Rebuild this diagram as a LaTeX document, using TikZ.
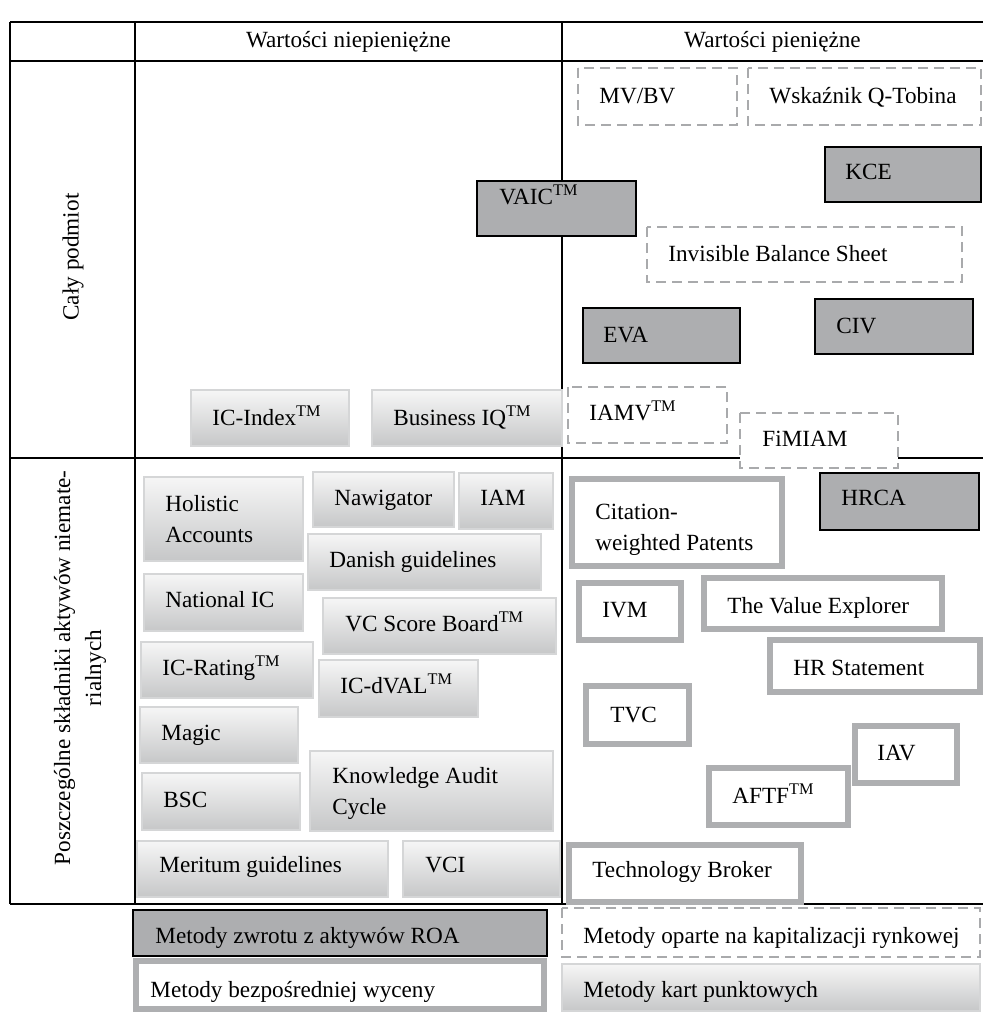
\documentclass[tikz,border=0pt]{standalone}
\usepackage{fontspec}
\setmainfont{Liberation Serif}
\usepackage{tikz}
\usepackage{xcolor}

\definecolor{roagray}{HTML}{ADAEB0}
\definecolor{dashgray}{HTML}{A9AAAC}
\definecolor{framegray}{HTML}{AEAFB1}
\definecolor{cardedge}{HTML}{D5D6D7}
\definecolor{cardtop}{HTML}{F6F6F6}
\definecolor{cardbot}{HTML}{C6C7C8}

\begin{document}
\begin{tikzpicture}[x=0.5pt,y=-0.5pt,
  siatka/.style={line width=1pt},
  roa/.style={fill=roagray,draw=black,line width=1pt},
  rynek/.style={fill=white,draw=dashgray,line width=1pt,dash pattern=on 5pt off 3pt},
  wycena/.style={fill=white,draw=framegray,line width=3.25pt},
  karta/.style={draw=cardedge,line width=1pt,top color=cardtop,bottom color=cardbot},
  tekst/.style={inner sep=0pt,font=\fontsize{11.6}{15.5}\selectfont},
  lbl/.style={tekst,anchor=base west},
  lbl2/.style={tekst,anchor=north west,align=left}]
\useasboundingbox (0,0) rectangle (983,1013);
% siatka tabeli
\draw[siatka] (10,22) -- (983,22);
\draw[siatka] (10,61) -- (983,61);
\draw[siatka] (10,458) -- (983,458);
\draw[siatka] (10,904) -- (983,904);
\draw[siatka] (10,22) -- (10,904);
\draw[siatka] (135,22) -- (135,904);
\draw[siatka] (562,22) -- (562,904);
\node[tekst] (niepien) at (348.5,41.5) {Wartości niepieniężne};
\node[tekst] (pien) at (772.5,41.5) {Wartości pieniężne};
\node[tekst,rotate=90] (caly) at (73,257) {Cały podmiot};
\node[tekst,rotate=90,align=center] (skladniki) at (80,668) {Poszczególne składniki aktywów niemate-\\rialnych};
% caly podmiot
\draw[rynek] (578,68) rectangle (737,125);
\node[lbl] (mvbv) at (599,103) {MV/BV};
\draw[rynek] (748,68) rectangle (981,125);
\node[lbl] (tobin) at (769,103) {Wskaźnik Q-Tobina};
\draw[roa] (825,147) rectangle (981,202);
\node[lbl] (kce) at (845,179) {KCE};
\draw[roa] (477,181) rectangle (636,236);
\node[lbl] (vaic) at (499,204) {VAIC\textsuperscript{TM}};
\draw[rynek] (647,227) rectangle (962,282);
\node[lbl] (ibs) at (668,261) {Invisible Balance Sheet};
\draw[roa] (583,308) rectangle (740,363);
\node[lbl] (eva) at (603,342) {EVA};
\draw[roa] (815,299) rectangle (973,354);
\node[lbl] (civ) at (836,333) {CIV};
\draw[rynek] (568,387) rectangle (727,443);
\node[lbl] (iamv) at (589,420) {IAMV\textsuperscript{TM}};
\draw[rynek] (740,413) rectangle (898,468);
\node[lbl] (fimiam) at (762,446) {FiMIAM};
\draw[karta] (372,390) rectangle (562,446);
\node[lbl] (busiq) at (393,425) {Business IQ\textsuperscript{TM}};
\draw[karta] (191,390) rectangle (349,446);
\node[lbl] (icindex) at (212,425) {IC-Index\textsuperscript{TM}};
% wartosci niepieniezne, skladniki
\draw[karta] (144,477) rectangle (303,561);
\node[lbl2] (holistic) at (165,495) {Holistic\\Accounts};
\draw[karta] (313,472) rectangle (454,527);
\node[lbl] (nawigator) at (334,505) {Nawigator};
\draw[karta] (459,473) rectangle (553,529);
\node[lbl] (iam) at (480,505) {IAM};
\draw[karta] (308,534) rectangle (541,590);
\node[lbl] (danish) at (329,567) {Danish guidelines};
\draw[karta] (144,574) rectangle (303,631);
\node[lbl] (national) at (165,607) {National IC};
\draw[karta] (323,598) rectangle (556,654);
\node[lbl] (vcscore) at (345,631) {VC Score Board\textsuperscript{TM}};
\draw[karta] (141,642) rectangle (313,698);
\node[lbl] (icrating) at (162,675) {IC-Rating\textsuperscript{TM}};
\draw[karta] (319,660) rectangle (478,717);
\node[lbl] (icdval) at (340,693) {IC-dVAL\textsuperscript{TM}};
\draw[karta] (140,707) rectangle (298,763);
\node[lbl] (magic) at (161,740) {Magic};
\draw[karta] (142,773) rectangle (300,830);
\node[lbl] (bsc) at (163,807) {BSC};
\draw[karta] (310,751) rectangle (553,831);
\node[lbl2] (kac) at (332,767) {Knowledge Audit\\Cycle};
\draw[karta] (137,841) rectangle (388,897);
\node[lbl] (meritum) at (159,872) {Meritum guidelines};
\draw[karta] (403,841) rectangle (560,897);
\node[lbl] (vci) at (425,872) {VCI};
% wartosci pieniezne, skladniki
\draw[wycena] (572,479) rectangle (782,566);
\node[lbl2] (citation) at (595,504) {Citation-\\weighted Patents};
\draw[roa] (820,473) rectangle (979,530);
\node[lbl] (hrca) at (841,505) {HRCA};
\draw[wycena] (579,583) rectangle (681,640);
\node[lbl] (ivm) at (602,617) {IVM};
\draw[wycena] (704,578) rectangle (942,629);
\node[lbl] (explorer) at (727,613) {The Value Explorer};
\draw[wycena] (770,640) rectangle (980,692);
\node[lbl] (hrstat) at (793,675) {HR Statement};
\draw[wycena] (586,686) rectangle (689,744);
\node[lbl] (tvc) at (610,722) {TVC};
\draw[wycena] (855,726) rectangle (957,783);
\node[lbl] (iav) at (877,760) {IAV};
\draw[wycena] (709,768) rectangle (848,825);
\node[lbl] (aftf) at (732,803) {AFTF\textsuperscript{TM}};
\draw[wycena] (569,845) rectangle (801,902);
\node[lbl] (broker) at (592,877) {Technology Broker};
% legenda
\draw[roa] (133,910) rectangle (547,956);
\node[lbl] (legroa) at (155,943) {Metody zwrotu z aktywów ROA};
\draw[rynek] (562,908) rectangle (980,957);
\node[lbl] (legrynek) at (583,943) {Metody oparte na kapitalizacji rynkowej};
\draw[wycena] (136,961) rectangle (544,1009);
\node[lbl] (legwycena) at (150,997) {Metody bezpośredniej wyceny};
\draw[karta] (562,964) rectangle (980,1011);
\node[lbl] (legkarta) at (583,997) {Metody kart punktowych};
\end{tikzpicture}
\end{document}
